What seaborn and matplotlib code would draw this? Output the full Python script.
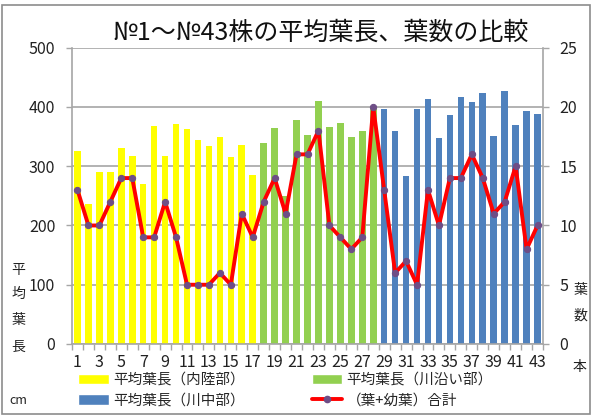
import numpy as np
import pandas as pd
import matplotlib
matplotlib.use("Agg")
import matplotlib.pyplot as plt
from matplotlib.patches import Patch, Rectangle
from matplotlib.lines import Line2D
import seaborn as sns

# ---- data ----
plant_no = list(range(1, 44))
region = (["内陸部"] * 17) + (["川沿い部"] * 11) + (["川中部"] * 15)
leaf_length = [325, 237, 290, 290, 330, 318, 270, 368, 317, 372, 363, 344, 334, 350, 315, 335, 286,
               340, 364, 249, 378, 352, 410, 367, 373, 350, 359, 401,
               396, 360, 283, 397, 414, 347, 387, 416, 408, 424, 351, 427, 369, 394, 388]
leaf_count = [13, 10, 10, 12, 14, 14, 9, 9, 12, 9, 5, 5, 5, 6, 5, 11, 9,
              12, 14, 11, 16, 16, 18, 10, 9, 8, 9, 20,
              13, 6, 7, 5, 13, 10, 14, 14, 16, 14, 11, 12, 15, 8, 10]
xtick_labels = [str(n) for n in plant_no if n % 2 == 1]

title = "№1～№43株の平均葉長、葉数の比較"
legend_labels = {"内陸部": "平均葉長（内陸部）", "川沿い部": "平均葉長（川沿い部）",
                 "川中部": "平均葉長（川中部）"}
line_label = "（葉+幼葉）合計"

colors = {"内陸部": "#FFFF00", "川沿い部": "#92D050", "川中部": "#4F81BD"}
red = "#FF0000"
marker_c = "#6E4E86"
grey = "#A6A6A6"

df = pd.DataFrame({"No": plant_no, "region": region, "length": leaf_length, "count": leaf_count})
df["pos"] = np.arange(len(df))

sns.set_style("white")
plt.rcParams["font.family"] = ["Noto Sans CJK JP", "DejaVu Sans"]

fig = plt.figure(figsize=(5.92, 4.16), dpi=100)
ax = fig.add_axes([72 / 592, 1 - 344 / 416, (543 - 72) / 592, (344 - 47.7) / 416])

sns.barplot(data=df, x="No", y="length", hue="region", dodge=False, palette=colors,
            hue_order=["内陸部", "川沿い部", "川中部"], width=0.6, saturation=1,
            legend=False, ax=ax, linewidth=0)

ax.set_xlim(-0.5, len(df) - 0.5)
ax.set_ylim(0, 500)
ax.set_yticks(range(0, 501, 100))
ax.set_axisbelow(True)
ax.grid(axis="y", color=grey, linewidth=1.2)
ax.grid(axis="x", visible=False)
ax.set_xlabel("")
ax.set_ylabel("")

ax.set_xticks([p for p, n in zip(df["pos"], plant_no) if n % 2 == 1])
ax.set_xticklabels(xtick_labels)
ax.set_xticks(np.arange(-0.5, len(df), 1.0), minor=True)
ax.tick_params(axis="x", which="major", length=0, pad=7, labelsize=11.5, colors="#222222")
ax.tick_params(axis="x", which="minor", length=4, width=1, color=grey, direction="out", bottom=True)
ax.tick_params(axis="y", length=4, width=1, color=grey, direction="out", left=True,
               labelsize=11.5, labelcolor="#222222", pad=8)

for s in ["left", "right", "bottom"]:
    ax.spines[s].set_color(grey)
    ax.spines[s].set_linewidth(1.2)
ax.spines["top"].set_visible(False)

ax2 = ax.twinx()
sns.lineplot(x=df["pos"], y=df["count"], ax=ax2, color=red, linewidth=2.8, marker="o",
             markersize=4.5, markerfacecolor=marker_c, markeredgecolor=marker_c, legend=False)
ax2.set_ylim(0, 25)
ax2.set_yticks(range(0, 26, 5))
ax2.set_ylabel("")
ax2.tick_params(axis="y", length=4, width=1, color=grey, direction="out", right=True,
                labelsize=11.5, labelcolor="#222222", pad=8)
for s in ["left", "right", "bottom", "top"]:
    ax2.spines[s].set_visible(False)
ax2.grid(False)

# title
fig.text(321 / 592, 1 - 33 / 416, title, ha="center", va="center", fontsize=18, color="#111111")

# axis labels (stacked vertical text)
for ch, y in zip("平均葉長", [270, 294, 320, 347]):
    fig.text(18 / 592, 1 - y / 416, ch, ha="center", va="center", fontsize=10, color="#222222")
fig.text(18 / 592, 1 - 400 / 416, "cm", ha="center", va="center", fontsize=9, color="#222222")
for ch, y in zip("葉数", [290, 316]):
    fig.text(580 / 592, 1 - y / 416, ch, ha="center", va="center", fontsize=10, color="#222222")
fig.text(580 / 592, 1 - 367 / 416, "本", ha="center", va="center", fontsize=10, color="#222222")

# legend
handles = [Patch(facecolor=colors["内陸部"], label=legend_labels["内陸部"]),
           Patch(facecolor=colors["川中部"], label=legend_labels["川中部"]),
           Patch(facecolor=colors["川沿い部"], label=legend_labels["川沿い部"]),
           Line2D([0], [0], color=red, linewidth=2.8, marker="o", markersize=4.5,
                  markerfacecolor=marker_c, markeredgecolor=marker_c, label=line_label)]
fig.legend(handles=handles, ncol=2, loc="upper left", bbox_to_anchor=(78 / 592, 1 - 373 / 416),
           frameon=False, fontsize=10.5, handlelength=2.1, handletextpad=0.3,
           columnspacing=4.6, labelspacing=0.45, borderpad=0, borderaxespad=0)

# figure frame
fig.patches.append(Rectangle((0.004, 0.004), 0.992, 0.985, transform=fig.transFigure,
                             fill=False, edgecolor="#8C8C8C", linewidth=1.2))

fig.savefig("out.png", dpi=100)
